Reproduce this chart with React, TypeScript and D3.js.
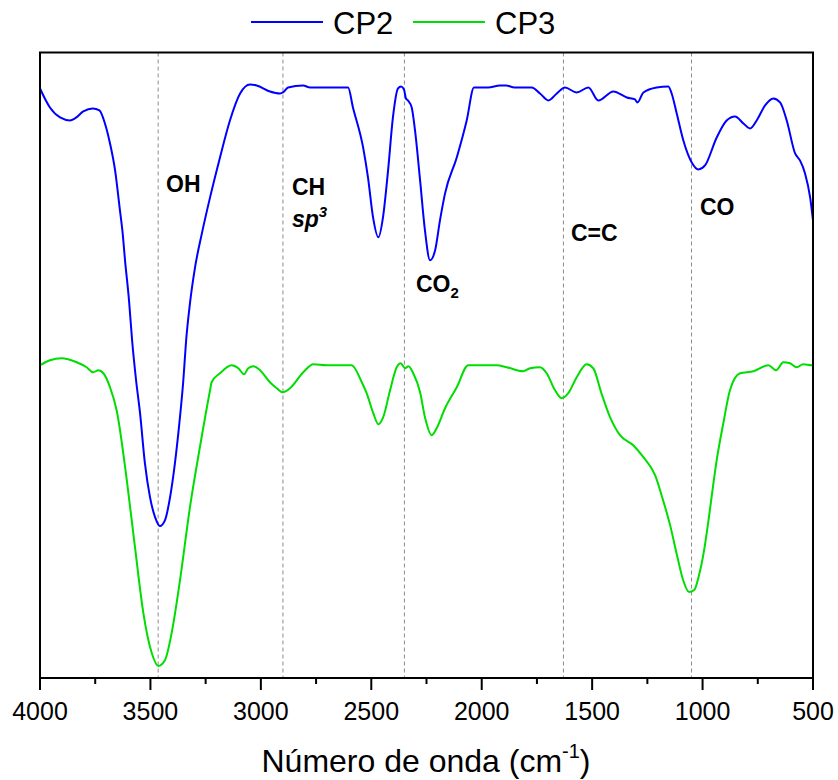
import React from "react";
import * as d3 from "d3";

// FTIR spectra: wavenumber (cm-1) and transmittance (arbitrary units)
const cp2Wavenumber = [
  4000, 3955, 3909, 3864, 3842, 3804, 3761, 3731, 3706, 3683, 3660, 3638, 3627, 3615, 3597, 3583, 3565,
  3547, 3525, 3502, 3479, 3457, 3434, 3411, 3389, 3369, 3351, 3339, 3321, 3298, 3268, 3230, 3185, 3140,
  3094, 3049, 3019, 2959, 2913, 2900, 2877, 2809, 2777, 2732, 2605, 2583, 2537, 2515, 2492, 2468, 2447,
  2424, 2402, 2379, 2365, 2352, 2343, 2334, 2317, 2302, 2279, 2257, 2234, 2211, 2189, 2166, 2113, 2068,
  2035, 1971, 1917, 1890, 1851, 1774, 1736, 1698, 1660, 1623, 1570, 1517, 1472, 1404, 1343, 1306, 1295,
  1268, 1208, 1155, 1140, 1117, 1087, 1049, 1019, 989, 936, 891, 853, 815, 785, 755, 717, 680, 649, 619,
  581, 559, 536, 513, 500,
];
const cp2Transmittance = [
  590, 571, 561, 558, 560, 567, 570, 568, 555, 535, 508, 468, 448, 418, 378, 338, 298,
  265, 215, 181, 161, 152, 158, 181, 215, 255, 298, 336, 375, 411, 444, 481, 521, 558,
  585, 594, 593, 587, 585, 586, 591, 593, 591, 591, 591, 571, 531, 501, 461, 441, 461,
  508, 561, 590, 592, 589, 580, 578, 571, 548, 498, 448, 418, 428, 458, 485, 521, 558,
  591, 591, 593, 593, 591, 591, 585, 578, 585, 591, 586, 591, 578, 587, 581, 579, 576,
  586, 591, 592, 585, 565, 538, 516, 509, 513, 541, 558, 562, 555, 550, 558, 573, 580, 576, 558,
  525, 518, 505, 481, 458,
];

const cp3Wavenumber = [
  4000, 3955, 3902, 3834, 3789, 3759, 3736, 3713, 3683, 3653, 3607, 3570, 3532, 3494, 3464, 3434,
  3404, 3366, 3321, 3276, 3230, 3223, 3185, 3132, 3102, 3076, 3057, 3034, 3004, 2959, 2928,
  2901, 2868, 2808, 2762, 2702, 2589, 2543, 2521, 2491, 2468, 2446, 2415, 2385, 2367, 2347, 2332, 2310,
  2279, 2257, 2226, 2204, 2166, 2113, 2061, 1932, 1887, 1812, 1781, 1736, 1706, 1668, 1638, 1608, 1570,
  1525, 1495, 1458, 1419, 1374, 1314, 1268, 1215, 1179, 1147, 1116, 1088, 1061, 1038, 1016, 993,
  970, 952, 936, 906, 876, 830, 770, 702, 667, 634, 604, 574, 544, 506, 500,
];
const cp3Transmittance = [
  313, 318, 320, 316, 311, 306, 308, 305, 291, 268, 198, 131, 65, 25, 12, 18,
  45, 98, 171, 231, 288, 296, 305, 313, 310, 304, 310, 312, 308, 296, 290,
  286, 290, 306, 314, 313, 313, 296, 285, 265, 254, 261, 288, 311, 315, 310, 312, 305,
  286, 261, 243, 250, 270, 291, 313, 313, 311, 307, 310, 311, 305, 288, 280, 285, 301,
  314, 310, 285, 261, 243, 233, 221, 203, 178, 153, 123, 98, 86, 88, 103, 128,
  163, 193, 218, 255, 288, 305, 307, 313, 308, 316, 315, 311, 314, 313, 313,
];

const seriesNames = ["CP2", "CP3"];
const seriesColors = ["#0000ff", "#00dd00"];

// Band assignments
const bandPositions = [3465, 2900, 2350, 1630, 1050];
const xTicks = [4000, 3500, 3000, 2500, 2000, 1500, 1000, 500];
const xMinorTicks = [3750, 3250, 2750, 2250, 1750, 1250, 750];

const W = 838;
const H = 780;
const left = 40;
const right = 813;
const top = 52.5;
const bottom = 678;

export default function App() {
  const x = d3.scaleLinear().domain([4000, 500]).range([left, right]);
  const y = d3.scaleLinear().domain([0, 626]).range([bottom, top]);

  const line = d3
    .line<[number, number]>()
    .x((d) => x(d[0]))
    .y((d) => y(d[1]))
    .curve(d3.curveMonotoneX);

  const cp2 = cp2Wavenumber.map((w, i) => [w, cp2Transmittance[i]] as [number, number]);
  const cp3 = cp3Wavenumber.map((w, i) => [w, cp3Transmittance[i]] as [number, number]);
  const series = [cp2, cp3];

  const font = "Arial, 'Liberation Sans', sans-serif";
  const label = { fontFamily: font, fontWeight: 700, fontSize: 23, fill: "#000" } as const;

  return (
    <svg
      width={W}
      height={H}
      viewBox={`0 0 ${W} ${H}`}
      style={{ position: "fixed", left: 0, top: 0, background: "#fff" }}
    >
      <rect x={0} y={0} width={W} height={H} fill="#fff" />

      {/* band guide lines */}
      {bandPositions.map((b) => (
        <line
          key={b}
          x1={x(b)}
          x2={x(b)}
          y1={top}
          y2={bottom}
          stroke="#8c8c8c"
          strokeWidth={1}
          strokeDasharray="4,3"
        />
      ))}

      {/* spectra */}
      {series.map((s, i) => (
        <path
          key={seriesNames[i]}
          d={line(s) || ""}
          fill="none"
          stroke={seriesColors[i]}
          strokeWidth={2}
          strokeLinejoin="round"
        />
      ))}

      {/* frame */}
      <rect
        x={left}
        y={top}
        width={right - left}
        height={bottom - top}
        fill="none"
        stroke="#000"
        strokeWidth={2}
      />

      {/* x axis ticks */}
      {xTicks.map((t) => (
        <g key={t}>
          <line x1={x(t)} x2={x(t)} y1={bottom} y2={bottom + 12} stroke="#000" strokeWidth={2} />
          <text
            x={x(t)}
            y={720}
            textAnchor="middle"
            fontFamily={font}
            fontSize={25}
            fill="#000"
          >
            {t}
          </text>
        </g>
      ))}
      {xMinorTicks.map((t) => (
        <line key={t} x1={x(t)} x2={x(t)} y1={bottom} y2={bottom + 6} stroke="#000" strokeWidth={2} />
      ))}

      {/* axis title */}
      <text x={426} y={772} textAnchor="middle" fontFamily={font} fontSize={32} fill="#000">
        Número de onda (cm
        <tspan fontSize={20} dy={-14}>-1</tspan>
        <tspan dy={14}>)</tspan>
      </text>

      {/* legend */}
      {seriesNames.map((n, i) => {
        const lx = i === 0 ? 251 : 413;
        return (
          <g key={n}>
            <line x1={lx} x2={lx + 72} y1={22} y2={22} stroke={seriesColors[i]} strokeWidth={2} />
            <text x={lx + 82} y={33.5} fontFamily={font} fontSize={31} fill="#000">
              {n}
            </text>
          </g>
        );
      })}

      {/* band labels */}
      <text x={166} y={192} {...label}>OH</text>
      <text x={292} y={195} {...label}>CH</text>
      <text x={292} y={227} {...label} fontStyle="italic">
        sp<tspan fontSize={15} dy={-10}>3</tspan>
      </text>
      <text x={416} y={292} {...label}>
        CO<tspan fontSize={15} dy={6}>2</tspan>
      </text>
      <text x={571} y={241} {...label}>C=C</text>
      <text x={700} y={215} {...label}>CO</text>
    </svg>
  );
}
